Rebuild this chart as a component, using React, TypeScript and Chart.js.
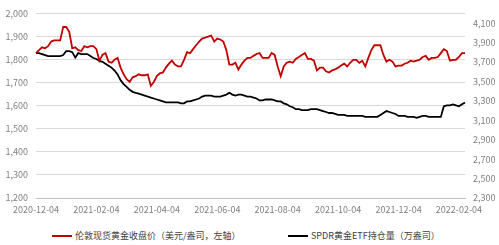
import React, { useEffect, useRef } from 'react';
import { Chart, registerables } from 'chart.js';

Chart.register(...registerables);

const xTickLabels = ['2020-12-04', '2021-02-04', '2021-04-04', '2021-06-04', '2021-08-04', '2021-10-04', '2021-12-04', '2022-02-04'];
const LABEL_STEP = 20;

const seriesNames = ['伦敦现货黄金收盘价（美元/盎司，左轴）', 'SPDR黄金ETF持仓量（万盎司）'];

const goldPrice = [
  1828, 1841, 1853, 1849, 1858, 1878, 1883, 1883, 1883, 1941,
  1941, 1920, 1849, 1853, 1841, 1837, 1858, 1853, 1858, 1858,
  1845, 1795, 1820, 1828, 1791, 1786, 1799, 1807, 1765, 1736,
  1715, 1703, 1723, 1728, 1736, 1732, 1732, 1736, 1686, 1703,
  1728, 1740, 1744, 1765, 1782, 1795, 1778, 1770, 1770, 1799,
  1832, 1828, 1845, 1862, 1878, 1891, 1895, 1899, 1904, 1878,
  1891, 1887, 1878, 1841, 1778, 1778, 1786, 1757, 1778, 1795,
  1807, 1807, 1816, 1824, 1828, 1807, 1807, 1807, 1828, 1820,
  1770, 1728, 1770, 1786, 1791, 1786, 1803, 1811, 1820, 1828,
  1803, 1803, 1795, 1753, 1765, 1765, 1749, 1744, 1753, 1757,
  1765, 1774, 1782, 1770, 1786, 1799, 1799, 1786, 1795, 1770,
  1807, 1841, 1862, 1862, 1862, 1820, 1791, 1799, 1791, 1770,
  1774, 1774, 1782, 1786, 1795, 1791, 1795, 1799, 1811, 1816,
  1799, 1807, 1807, 1811, 1828, 1845, 1837, 1795, 1799, 1799,
  1811, 1828, 1828,
];

const etfHoldings = [
  3791, 3791, 3781, 3771, 3761, 3761, 3761, 3761, 3761, 3771,
  3811, 3811, 3801, 3745, 3791, 3781, 3781, 3781, 3761, 3741,
  3731, 3711, 3702, 3682, 3662, 3642, 3612, 3572, 3513, 3473,
  3443, 3413, 3393, 3383, 3374, 3364, 3354, 3344, 3334, 3324,
  3314, 3304, 3294, 3284, 3284, 3284, 3284, 3284, 3274, 3274,
  3294, 3294, 3304, 3314, 3324, 3344, 3354, 3354, 3354, 3344,
  3344, 3344, 3354, 3364, 3383, 3364, 3354, 3364, 3364, 3354,
  3344, 3344, 3334, 3324, 3304, 3304, 3314, 3314, 3314, 3304,
  3294, 3294, 3274, 3264, 3244, 3234, 3214, 3214, 3205, 3205,
  3205, 3214, 3214, 3214, 3205, 3195, 3185, 3175, 3175, 3165,
  3155, 3155, 3155, 3145, 3145, 3145, 3145, 3145, 3145, 3135,
  3135, 3135, 3135, 3135, 3155, 3175, 3195, 3185, 3175, 3165,
  3145, 3145, 3145, 3135, 3135, 3135, 3125, 3135, 3145, 3145,
  3135, 3135, 3135, 3135, 3135, 3244, 3254, 3254, 3264, 3254,
  3244, 3264, 3284,
];

const leftTicks = [1200, 1300, 1400, 1500, 1600, 1700, 1800, 1900, 2000];
const rightTicks = [2300, 2500, 2700, 2900, 3100, 3300, 3500, 3700, 3900, 4100];

const RED = '#C00000';
const BLACK = '#000000';
const TICK_COLOR = '#7f7f7f';
const FONT = "'Noto Sans CJK SC', 'Noto Sans', sans-serif";

const fmt = (v: number) => Number(v).toLocaleString('en-US');

export default function App() {
  const ref = useRef<HTMLCanvasElement | null>(null);

  useEffect(() => {
    if (!ref.current) return;
    const categories = goldPrice.map((_, i) => String(i));
    const chart = new Chart(ref.current, {
      type: 'line',
      data: {
        labels: categories,
        datasets: [
          {
            label: seriesNames[0],
            data: goldPrice,
            borderColor: RED,
            backgroundColor: RED,
            borderWidth: 1.8,
            pointRadius: 0,
            tension: 0,
            yAxisID: 'y',
          },
          {
            label: seriesNames[1],
            data: etfHoldings,
            borderColor: BLACK,
            backgroundColor: BLACK,
            borderWidth: 1.8,
            pointRadius: 0,
            tension: 0,
            yAxisID: 'y1',
          },
        ],
      },
      options: {
        responsive: false,
        animation: false,
        devicePixelRatio: 1,
        layout: { padding: { top: 7, left: 0, right: 0, bottom: 0 } },
        plugins: { legend: { display: false }, tooltip: { enabled: false } },
        scales: {
          x: {
            type: 'category',
            offset: false,
            grid: { display: false, drawTicks: false },
            border: { display: true, color: '#bfbfbf', width: 1 },
            afterBuildTicks: (s: any) => {
              s.ticks = s.ticks.filter((t: any) => t.value % LABEL_STEP === 0);
            },
            afterFit: (s: any) => {
              s.height = 24;
            },
            ticks: {
              autoSkip: false,
              maxRotation: 0,
              minRotation: 0,
              padding: 6,
              color: TICK_COLOR,
              font: { family: FONT, size: 9 },
              callback: (v: any) => xTickLabels[Number(v) / LABEL_STEP],
            },
          },
          y: {
            position: 'left',
            min: 1200,
            max: 2000,
            afterBuildTicks: (s: any) => {
              s.ticks = leftTicks.map((v) => ({ value: v }));
            },
            afterFit: (s: any) => {
              s.width = 36;
            },
            grid: { color: '#d9d9d9', drawTicks: false, lineWidth: 1 },
            border: { display: false },
            ticks: {
              padding: 8,
              color: TICK_COLOR,
              font: { family: FONT, size: 9 },
              callback: (v: any) => fmt(v),
            },
          },
          y1: {
            position: 'right',
            min: 2300,
            max: 4200,
            afterBuildTicks: (s: any) => {
              s.ticks = rightTicks.map((v) => ({ value: v }));
            },
            afterFit: (s: any) => {
              s.width = 34;
            },
            grid: { display: false, drawTicks: false },
            border: { display: false },
            ticks: {
              padding: 8,
              color: TICK_COLOR,
              font: { family: FONT, size: 9 },
              callback: (v: any) => fmt(v),
            },
          },
        },
      },
    });
    return () => chart.destroy();
  }, []);

  const legendItem = (left: number, color: string, text: string) => (
    <div
      style={{
        position: 'absolute',
        left,
        top: 230,
        height: 12,
        display: 'flex',
        alignItems: 'center',
        whiteSpace: 'nowrap',
      }}
    >
      <span style={{ display: 'inline-block', width: 20, height: 2, background: color }} />
      <span style={{ marginLeft: 3, fontSize: 9, lineHeight: '12px', color: '#404040', fontFamily: FONT }}>{text}</span>
    </div>
  );

  return (
    <div style={{ position: 'absolute', left: 0, top: 0, width: 499, height: 245, background: '#ffffff', overflow: 'hidden' }}>
      <canvas ref={ref} width={499} height={222} style={{ display: 'block' }} />
      {legendItem(52, RED, seriesNames[0])}
      {legendItem(288, BLACK, seriesNames[1])}
    </div>
  );
}
